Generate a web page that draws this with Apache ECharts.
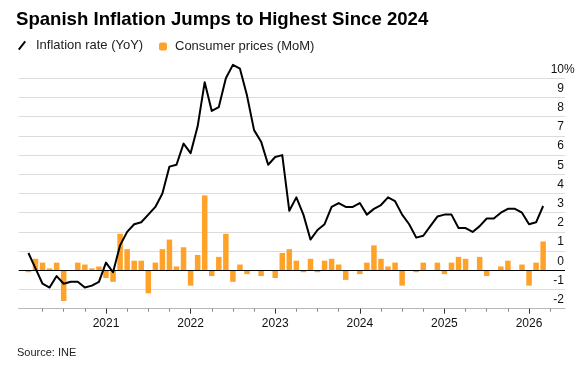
<!DOCTYPE html>
<html><head><meta charset="utf-8">
<script src="https://cdn.jsdelivr.net/npm/echarts@6/dist/echarts.min.js"></script>
<style>html,body{margin:0;padding:0;background:#fff}#c{width:586px;height:371px}</style>
</head><body><div id="c"></div>
<script>
const months = [
  '2020-02','2020-03','2020-04','2020-05','2020-06','2020-07','2020-08','2020-09','2020-10','2020-11','2020-12',
  '2021-01','2021-02','2021-03','2021-04','2021-05','2021-06','2021-07','2021-08','2021-09','2021-10','2021-11','2021-12',
  '2022-01','2022-02','2022-03','2022-04','2022-05','2022-06','2022-07','2022-08','2022-09','2022-10','2022-11','2022-12',
  '2023-01','2023-02','2023-03','2023-04','2023-05','2023-06','2023-07','2023-08','2023-09','2023-10','2023-11','2023-12',
  '2024-01','2024-02','2024-03','2024-04','2024-05','2024-06','2024-07','2024-08','2024-09','2024-10','2024-11','2024-12',
  '2025-01','2025-02','2025-03','2025-04','2025-05','2025-06','2025-07','2025-08','2025-09','2025-10','2025-11','2025-12',
  '2026-01','2026-02','2026-03'
];
const inflationYoY = [
  0.9, 0.1, -0.7, -0.9, -0.3, -0.7, -0.6, -0.6, -0.9, -0.8, -0.6,
  0.4, -0.1, 1.3, 2.0, 2.4, 2.5, 2.9, 3.3, 4.0, 5.4, 5.5, 6.6,
  6.1, 7.5, 9.8, 8.3, 8.5, 10.0, 10.7, 10.5, 9.1, 7.3, 6.7, 5.5,
  5.9, 6.0, 3.1, 3.8, 2.9, 1.6, 2.1, 2.4, 3.3, 3.5, 3.3, 3.3,
  3.5, 2.9, 3.2, 3.4, 3.8, 3.6, 2.9, 2.4, 1.7, 1.8, 2.3, 2.8,
  2.9, 2.9, 2.2, 2.2, 2.0, 2.3, 2.7, 2.7, 3.0, 3.2, 3.2, 3.0,
  2.4, 2.5, 3.35
];
const consumerMoM = [
  -0.1, 0.6, 0.4, 0.1, 0.4, -1.6, 0.0, 0.4, 0.3, 0.1, 0.2,
  -0.4, -0.6, 1.9, 1.1, 0.5, 0.5, -1.2, 0.4, 1.1, 1.6, 0.2, 1.2,
  -0.8, 0.8, 3.9, -0.3, 0.7, 1.9, -0.6, 0.3, -0.2, 0.0, -0.3, 0.0,
  -0.4, 0.9, 1.1, 0.5, -0.1, 0.6, -0.1, 0.5, 0.6, 0.3, -0.5, 0.0,
  -0.2, 0.4, 1.3, 0.6, 0.2, 0.4, -0.8, 0.0, -0.1, 0.4, 0.0, 0.4,
  -0.2, 0.4, 0.7, 0.6, 0.0, 0.7, -0.3, 0.0, 0.2, 0.5, 0.0, 0.3,
  -0.8, 0.4, 1.5
];
const yearLabels = ['2021','2022','2023','2024','2025','2026'];
const yTickLabels = ['-2','-1','0','1','2','3','4','5','6','7','8','9','10'];

const FONT = 'Liberation Sans, Arial, sans-serif';
function monthIndex(s){ const p = s.split('-').map(Number); return (p[0]-2020)*12 + (p[1]-1); }
const xs = months.map(monthIndex);
const yoyData = xs.map((x,i)=>[x, inflationYoY[i]]);
const momData = xs.map((x,i)=>[x, consumerMoM[i]]);
const yearVals = yearLabels.map(y => (Number(y)-2020)*12);
const X_MIN = -0.38, X_MAX = 77.1;
const quarterVals = [];
for (let m = 3; m <= X_MAX; m += 3) if (m % 12 !== 0) quarterVals.push(m);
const yVals = yTickLabels.map(Number);
const splitColors = yVals.map(v => v === 0 ? 'rgba(0,0,0,0)' : '#dcdcdc');

const grid = {left: 18.7, right: 21, top: 78.3, bottom: 62.3, outerBoundsMode: 'none'};
const chart = echarts.init(document.getElementById('c'), null, {renderer: 'canvas'});
chart.setOption({
  animation: false,
  backgroundColor: '#fff',
  textStyle: {fontFamily: FONT},
  title: [
    {text: 'Spanish Inflation Jumps to Highest Since 2024', left: 16, top: 10, padding: 0,
     textStyle: {fontFamily: FONT, fontSize: 18.6, fontWeight: 'bold', color: '#000'}},
    {text: 'Source: INE', left: 17, top: 347, padding: 0,
     textStyle: {fontFamily: FONT, fontSize: 11, fontWeight: 'normal', color: '#222'}}
  ],
  legend: [
    {data: [{name: 'Inflation rate (YoY)', icon: 'path://M0,9 L7,0 L8.6,1.3 L1.6,10.3 Z'}],
     left: 18, top: 39, padding: 0, itemWidth: 8, itemHeight: 10, selectedMode: false,
     textStyle: {fontFamily: FONT, fontSize: 13, color: '#222', padding: [0,0,0,5]}},
    {data: [{name: 'Consumer prices (MoM)', icon: 'roundRect'}],
     left: 159, top: 40, padding: 0, itemWidth: 8, itemHeight: 8, selectedMode: false,
     textStyle: {fontFamily: FONT, fontSize: 13, color: '#222', padding: [0,0,0,3]}}
  ],
  grid: [Object.assign({}, grid), Object.assign({}, grid)],
  xAxis: [
    {type: 'value', gridIndex: 0, min: X_MIN, max: X_MAX, position: 'bottom',
     axisLine: {show: true, onZero: false, lineStyle: {color: '#b8b8b8', width: 1}},
     axisTick: {show: true, customValues: yearVals, length: 5, lineStyle: {color: '#333'}},
     axisLabel: {show: true, customValues: yearVals, margin: 9, fontFamily: FONT, fontSize: 12, color: '#111',
       formatter: v => yearLabels[yearVals.indexOf(Math.round(v))] || ''},
     splitLine: {show: false}},
    {type: 'value', gridIndex: 1, min: X_MIN, max: X_MAX, position: 'bottom',
     axisLine: {show: false, onZero: false},
     axisTick: {show: true, customValues: quarterVals, length: 3, lineStyle: {color: '#888'}},
     axisLabel: {show: false}, splitLine: {show: false}}
  ],
  yAxis: [
    {type: 'value', gridIndex: 0, min: -2, max: 10, interval: 1, position: 'right',
     axisLine: {show: false}, axisTick: {show: false},
     axisLabel: {inside: true, margin: 1, align: 'right', verticalAlign: 'bottom', fontFamily: FONT, fontSize: 12,
       color: '#111', padding: [0,0,3,0],
       formatter: v => v === 10 ? '{n|' + yTickLabels[v+2] + '}{p|%}' : '{n|' + yTickLabels[v+2] + '}',
       rich: {n: {align: 'left', fontFamily: FONT, fontSize: 12, color: '#111'},
              p: {align: 'left', width: 0.01, fontFamily: FONT, fontSize: 12, color: '#111'}}},
     splitLine: {show: true, lineStyle: {color: splitColors, width: 1}}},
    {type: 'value', gridIndex: 1, min: -2, max: 10, show: false}
  ],
  series: [
    {name: 'Consumer prices (MoM)', type: 'bar', xAxisIndex: 0, yAxisIndex: 0, data: momData, barWidth: 5.5,
     itemStyle: {color: '#ffa229'},
     markLine: {silent: true, symbol: 'none', label: {show: false}, z: 5,
       lineStyle: {color: '#000', width: 1, type: 'solid'}, data: [{yAxis: 0}]}},
    {name: 'Inflation rate (YoY)', type: 'line', xAxisIndex: 0, yAxisIndex: 0, data: yoyData,
     showSymbol: false, symbol: 'none', z: 10, color: '#000', clip: false,
     lineStyle: {color: '#000', width: 2, join: 'round'}}
  ]
});
</script></body></html>
